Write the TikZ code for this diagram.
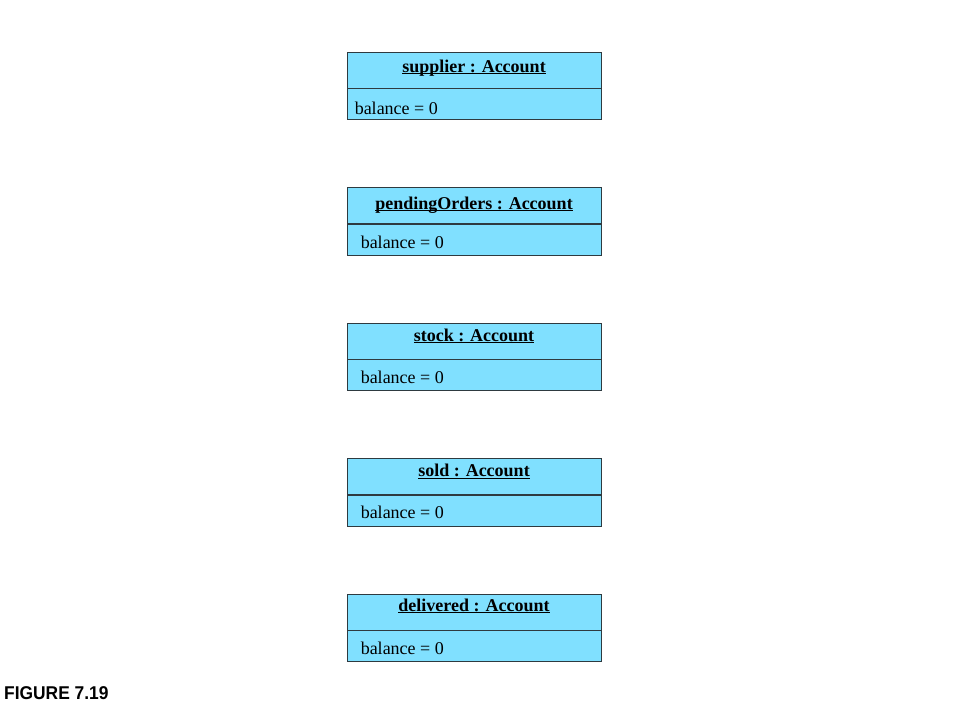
\documentclass[tikz,border=0pt]{standalone}
\usepackage{fontspec}
\setmainfont{Liberation Serif}
\newfontfamily\figfont[FakeStretch=0.94]{Liberation Sans}
\usetikzlibrary{positioning}

\definecolor{objblue}{HTML}{80E0FF}
\definecolor{objline}{HTML}{2E3A40}

% sublinhado do nome do objeto
\newsavebox{\objbox}
\newcommand{\objul}[1]{\sbox{\objbox}{#1}\rlap{\rule[-2.3pt]{\wd\objbox}{0.9pt}}\usebox{\objbox}}

\tikzset{
	objhead/.style={draw=objline, fill=objblue, line width=0.9pt, minimum width=254pt,
		minimum height=36pt, inner sep=0pt},
	objbody/.style={draw=objline, fill=objblue, line width=0.9pt, minimum width=254pt,
		minimum height=31pt, inner sep=0pt},
	objname/.style={inner sep=0pt, anchor=base, font=\fontsize{18}{20}\selectfont\bfseries},
	attr/.style={inner sep=0pt, anchor=base west, font=\fontsize{18}{20}\selectfont},
}

\begin{document}
\begin{tikzpicture}[x=1pt, y=-1pt]
	\useasboundingbox (0,0) rectangle (955,704);

% objetos
	\foreach \nome/\hy/\dx/\dy [count=\i from=0] in {supplier/20.5/8/26, pendingOrders/22/14/25, stock/18.5/14/24.5, sold/18.5/14/24, delivered/17.5/14/24}
	{
		\node[objhead] (\nome) at (474, {70+135.5*\i}) {};
		\node[objbody, below=0pt of \nome] (\nome-body) {};
		\node[objname] (\nome-name) at ([yshift=-\hy pt]\nome.north) {\objul{\nome\ : Account}};
		\node[attr] (\nome-bal) at ([xshift=\dx pt, yshift=-\dy pt]\nome.south west) {balance = 0};
	}

% legenda
	\node[inner sep=0pt, anchor=base west, font=\figfont\fontsize{18.5}{20}\selectfont\bfseries] (fig) at (4,699) {FIGURE 7.19};
\end{tikzpicture}
\end{document}
